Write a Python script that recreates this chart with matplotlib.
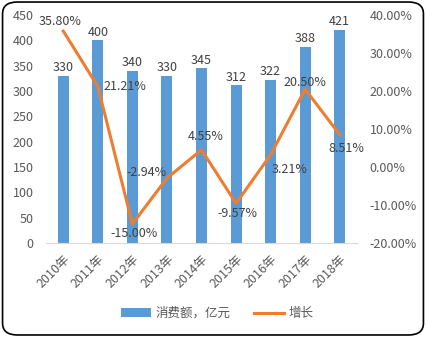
import matplotlib
matplotlib.use("Agg")
import matplotlib.pyplot as plt
from matplotlib.patches import FancyBboxPatch
from matplotlib.ticker import FuncFormatter

plt.rcParams['font.family'] = ['Noto Sans CJK SC', 'DejaVu Sans']

years = ["2010年", "2011年", "2012年", "2013年", "2014年", "2015年", "2016年", "2017年", "2018年"]
spend = [330, 400, 340, 330, 345, 312, 322, 388, 421]
growth = [35.80, 21.21, -15.00, -2.94, 4.55, -9.57, 3.21, 20.50, 8.51]
# label placement for each growth point: (dx, dy) in pixels
growth_offsets = [(-3, 10), (27, 0), (2, -10), (-20, 6), (4, 13), (1, -10), (19, -15), (0, 7), (7, -14)]

bar_color = "#5b9bd5"
line_color = "#ed7d31"
text_color = "#404040"
tick_color = "#595959"
fs = 9

fig = plt.figure(figsize=(4.26, 3.37), dpi=100)
ax = fig.add_axes([0.108, 0.279, 0.73, 0.676])
x = range(len(years))

ax.bar(x, spend, width=0.32, color=bar_color, label="消费额，亿元", zorder=2)
for i, v in enumerate(spend):
    ax.annotate(str(v), (i, v), xytext=(0, 8), textcoords="offset pixels",
                ha="center", va="center", fontsize=fs, color=text_color)
ax.set_ylim(0, 450)
ax.set_yticks(range(0, 451, 50))
ax.set_xlim(-0.5, len(years) - 0.5)
ax.set_xticks(list(x))
ax.set_xticklabels(years, rotation=45, ha="right", rotation_mode="anchor")

ax2 = ax.twinx()
ax2.plot(x, growth, color=line_color, lw=2.2, label="增长", zorder=3)
for i, v in enumerate(growth):
    dx, dy = growth_offsets[i]
    ax2.annotate(f"{v:.2f}%", (i, v), xytext=(dx, dy), textcoords="offset pixels",
                 ha="center", va="center", fontsize=fs, color=text_color)
ax2.set_ylim(-20, 40)
ax2.set_yticks(range(-20, 41, 10))
ax2.yaxis.set_major_formatter(FuncFormatter(lambda v, p: f"{v:.2f}%"))

for a in (ax, ax2):
    for s in ("top", "left", "right"):
        a.spines[s].set_visible(False)
    a.tick_params(length=0, labelsize=fs, colors=tick_color, pad=9)
ax.spines["bottom"].set_color("#d9d9d9")
ax2.spines["bottom"].set_visible(False)
ax.tick_params(axis="x", pad=7)

h1, l1 = ax.get_legend_handles_labels()
h2, l2 = ax2.get_legend_handles_labels()
fig.legend(h1 + h2, l1 + l2, loc="center", bbox_to_anchor=(0.51, 0.07), ncol=2,
           frameon=False, fontsize=fs, labelcolor=tick_color, handlelength=2.4,
           handletextpad=0.4, columnspacing=1.8)

# rounded outer frame
fig.patches.append(FancyBboxPatch((0.006, 0.006), 0.988, 0.988,
                                  boxstyle="round,pad=0,rounding_size=0.035",
                                  transform=fig.transFigure, fill=False,
                                  edgecolor="black", lw=1.2))

fig.savefig("out.png", dpi=100)
